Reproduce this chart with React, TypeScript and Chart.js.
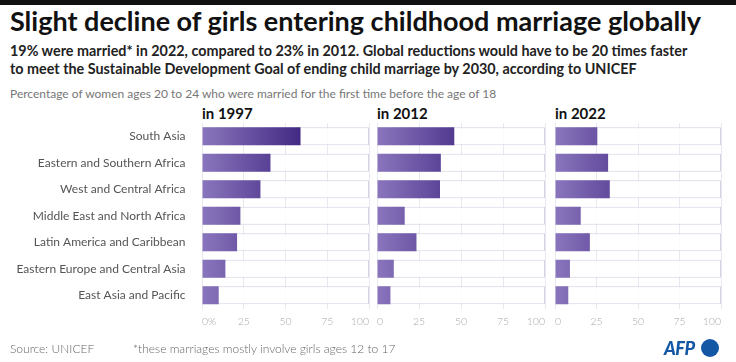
import React, { useEffect, useRef } from "react";
import { Chart, registerables } from "chart.js";

Chart.register(...registerables);

const categories = [
  "South Asia",
  "Eastern and Southern Africa",
  "West and Central Africa",
  "Middle East and North Africa",
  "Latin America and Caribbean",
  "Eastern Europe and Central Asia",
  "East Asia and Pacific",
];
const values1997 = [59, 41, 35, 23, 21, 14, 10];
const values2012 = [46, 38, 37.5, 16.5, 23.5, 10, 8];
const values2022 = [25.5, 32, 33, 15.5, 21, 9, 8];
const panelTitles = ["in 1997", "in 2012", "in 2022"];
const firstTickLabels = ["0%", "25", "50", "75", "100"];
const tickLabels = ["0", "25", "50", "75", "100"];
const axisMax = 100;

const W = 736;
const H = 362;
const FONT = "Lato, 'Noto Sans', sans-serif";
const panels = [
  { left: 202, right: 369 },
  { left: 377, right: 545 },
  { left: 555, right: 721 },
];
const AREA_TOP = 123;
const AREA_BOTTOM = 308.5;
const XAXIS_H = 30;

function gradientFill(ctx: any) {
  const chart = ctx.chart;
  const xs = chart.scales && chart.scales.x;
  if (!chart.chartArea || !xs) return "#7a64b0";
  const x0 = xs.getPixelForValue(0);
  const x1 = xs.getPixelForValue(62);
  const g = chart.ctx.createLinearGradient(x0, 0, x1, 0);
  g.addColorStop(0, "#8a76bd");
  g.addColorStop(1, "#3f2580");
  return g;
}

function Panel({ index, values }: { index: number; values: number[] }) {
  const ref = useRef<HTMLCanvasElement>(null);
  useEffect(() => {
    if (!ref.current) return;
    const p = panels[index];
    const labels = index === 0 ? firstTickLabels : tickLabels;
    const yScale: any = {
      display: index === 0,
      ticks: {
        padding: 8.5,
        color: "#555",
        font: { family: FONT, size: 12 },
      },
      grid: { display: false },
      border: { display: false },
    };
    if (index === 0) {
      yScale.afterFit = (s: any) => {
        s.width = p.left;
      };
    }
    const chart = new Chart(ref.current, {
      type: "bar",
      data: {
        labels: categories,
        datasets: [
          {
            data: values,
            backgroundColor: gradientFill,
            borderWidth: 0,
            order: 1,
            grouped: false,
            barPercentage: 0.68,
            categoryPercentage: 1,
          } as any,
          {
            data: categories.map(() => axisMax),
            backgroundColor: "rgba(255,255,255,0.85)",
            borderColor: "#d6d2e3",
            borderWidth: 1,
            order: 2,
            grouped: false,
            barPercentage: 0.68,
            categoryPercentage: 1,
          } as any,
        ],
      },
      options: {
        indexAxis: "y",
        responsive: false,
        animation: false,
        events: [],
        layout: {
          padding: {
            left: index === 0 ? 0 : p.left,
            right: W - p.right,
            top: AREA_TOP,
            bottom: H - AREA_BOTTOM - XAXIS_H,
          },
        },
        plugins: {
          legend: { display: false },
          tooltip: { enabled: false },
          title: { display: false },
        },
        scales: {
          x: {
            type: "linear",
            min: 0,
            max: axisMax,
            afterFit: (s: any) => {
              s.height = XAXIS_H;
            },
            ticks: {
              stepSize: 25,
              padding: 7,
              align: "inner",
              color: "#a8a8a8",
              font: { family: FONT, size: 10.5, weight: "300" },
              callback: (_v: any, i: number) => labels[i],
              maxRotation: 0,
            },
            grid: { color: "#e9e7ef", drawTicks: false, lineWidth: 1 },
            border: { display: false },
          },
          y: yScale,
        },
      } as any,
    });
    return () => chart.destroy();
  }, [index, values]);
  return (
    <canvas
      ref={ref}
      width={W}
      height={H}
      style={{ position: "absolute", left: 0, top: 0, width: W, height: H }}
    />
  );
}

const textBase: React.CSSProperties = {
  position: "absolute",
  fontFamily: FONT,
  whiteSpace: "nowrap",
  transformOrigin: "left top",
  margin: 0,
};

export default function App() {
  return (
    <div
      style={{
        position: "fixed",
        left: 0,
        top: 0,
        width: W,
        height: H,
        background: "#fff",
        overflow: "hidden",
      }}
    >
      <div style={{ position: "absolute", left: 0, top: 0, width: W, height: 5, background: "#111" }} />
      <div
        style={{
          ...textBase,
          left: 10,
          top: 7,
          fontSize: 27,
          lineHeight: "27px",
          fontWeight: 700,
          color: "#111",
        }}
      >
        Slight decline of girls entering childhood marriage globally
      </div>
      <div
        style={{
          ...textBase,
          left: 10,
          top: 41,
          fontSize: 15,
          lineHeight: "18px",
          fontWeight: 700,
          color: "#222",
          transform: "scaleX(0.957)",
        }}
      >
        <div>19% were married* in 2022, compared to 23% in 2012. Global reductions would have to be 20 times faster</div>
        <div>to meet the Sustainable Development Goal of ending child marriage by 2030, according to UNICEF</div>
      </div>
      <div
        style={{
          ...textBase,
          left: 10,
          top: 86,
          fontSize: 12,
          lineHeight: "15px",
          fontWeight: 400,
          color: "#777",
        }}
      >
        Percentage of women ages 20 to 24 who were married for the first time before the age of 18
      </div>
      {panelTitles.map((t, i) => (
        <div
          key={t}
          style={{
            ...textBase,
            left: panels[i].left,
            top: 104,
            fontSize: 15,
            lineHeight: "18px",
            fontWeight: 700,
            color: "#111",
          }}
        >
          {t}
        </div>
      ))}
      <Panel index={0} values={values1997} />
      <Panel index={1} values={values2012} />
      <Panel index={2} values={values2022} />
      <div
        style={{
          ...textBase,
          left: 10,
          top: 342,
          fontSize: 12,
          lineHeight: "14px",
          fontWeight: 300,
          color: "#666",
        }}
      >
        Source: UNICEF
      </div>
      <div
        style={{
          ...textBase,
          left: 133,
          top: 342,
          fontSize: 12,
          lineHeight: "14px",
          fontWeight: 300,
          color: "#666",
        }}
      >
        *these marriages mostly involve girls ages 12 to 17
      </div>
      <div
        style={{
          ...textBase,
          left: 664,
          top: 338,
          fontSize: 18,
          lineHeight: "20px",
          fontWeight: 900,
          fontStyle: "italic",
          color: "#1457a5",
          letterSpacing: -0.5,
        }}
      >
        AFP
      </div>
      <div
        style={{
          position: "absolute",
          left: 700.5,
          top: 338.5,
          width: 18,
          height: 18,
          borderRadius: "50%",
          background: "#1457a5",
        }}
      />
    </div>
  );
}
